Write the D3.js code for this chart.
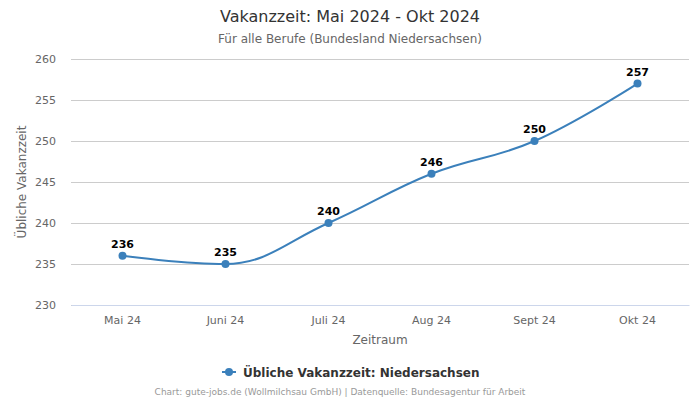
<!DOCTYPE html>
<html><head><meta charset="utf-8">
<script src="https://cdn.jsdelivr.net/npm/d3@7"></script>
<style>body{margin:0;background:#fff}svg{display:block;font-family:"DejaVu Sans",sans-serif}</style>
</head><body><svg id="c" width="700" height="400"></svg>
<script>
const categories = ["Mai 24","Juni 24","Juli 24","Aug 24","Sept 24","Okt 24"];
const values = [236,235,240,246,250,257];
const yTicks = [230,235,240,245,250,255,260];
const seriesName = "Übliche Vakanzzeit: Niedersachsen";

const svg = d3.select("#c");
const W=700,H=400, L=71, R=689, T=59, B=305;
const color = "#3b80bb";

const x = d3.scaleBand().domain(categories).range([L,R]);
const y = d3.scaleLinear().domain([230,260]).range([B,T]);

// title
svg.append("text").attr("x",W/2).attr("y",22).attr("text-anchor","middle").attr("font-size",16).attr("fill","#333").text("Vakanzzeit: Mai 2024 - Okt 2024");
svg.append("text").attr("x",W/2).attr("y",43).attr("text-anchor","middle").attr("font-size",12).attr("fill","#666").text("Für alle Berufe (Bundesland Niedersachsen)");

// grid
const yAxis = d3.axisLeft(y).tickValues(yTicks).tickSize(-(R-L)).tickPadding(15);
const gy = svg.append("g").attr("transform",`translate(${L},0)`).call(yAxis);
gy.select(".domain").remove();
gy.selectAll(".tick line").attr("stroke","#cccccc").attr("stroke-width",1);
gy.selectAll(".tick text").attr("font-size",11).attr("fill","#666").attr("font-family","DejaVu Sans");

const xAxis = d3.axisBottom(x).tickSize(0).tickPadding(11);
const gx = svg.append("g").attr("transform",`translate(0,${B})`).call(xAxis);
gx.select(".domain").attr("stroke","#ccd6eb");
gx.selectAll(".tick text").attr("font-size",11).attr("fill","#666").attr("font-family","DejaVu Sans");

svg.append("text").attr("transform",`translate(26,${(T+B)/2}) rotate(-90)`).attr("text-anchor","middle").attr("font-size",12).attr("fill","#666").text("Übliche Vakanzzeit");
svg.append("text").attr("x",(L+R)/2).attr("y",344).attr("text-anchor","middle").attr("font-size",12).attr("fill","#666").text("Zeitraum");

// Highcharts-like spline curve
function HCSpline(context){this._context=context;}
HCSpline.prototype={
  areaStart(){this._line=0;},areaEnd(){this._line=NaN;},
  lineStart(){this._pts=[];},
  point(px,py){this._pts.push([+px,+py]);},
  lineEnd(){
    const p=this._pts, c=this._context, n=p.length, s=1.5, d=s+1;
    if(!n)return;
    const lc=[],rc=[];
    for(let i=0;i<n;i++){
      const [px,py]=p[i];
      if(i===0||i===n-1){lc[i]=[px,py];rc[i]=[px,py];continue;}
      const [lx,ly]=p[i-1],[nx,ny]=p[i+1];
      let lcx=(s*px+lx)/d, lcy=(s*py+ly)/d, rcx=(s*px+nx)/d, rcy=(s*py+ny)/d;
      if(rcx!==lcx){const corr=((rcy-lcy)*(rcx-px))/(rcx-lcx)+py-rcy;lcy+=corr;rcy+=corr;}
      if(lcy>ly&&lcy>py){lcy=Math.max(ly,py);rcy=2*py-lcy;}
      else if(lcy<ly&&lcy<py){lcy=Math.min(ly,py);rcy=2*py-lcy;}
      if(rcy>ny&&rcy>py){rcy=Math.max(ny,py);lcy=2*py-rcy;}
      else if(rcy<ny&&rcy<py){rcy=Math.min(ny,py);lcy=2*py-rcy;}
      lc[i]=[lcx,lcy];rc[i]=[rcx,rcy];
    }
    c.moveTo(p[0][0],p[0][1]);
    for(let i=1;i<n;i++){c.bezierCurveTo(rc[i-1][0],rc[i-1][1],lc[i][0],lc[i][1],p[i][0],p[i][1]);}
  }
};
const curve = ctx=>new HCSpline(ctx);

const cx = d=>x(d)+x.bandwidth()/2;
const data = categories.map((c,i)=>({c,v:values[i]}));
const line = d3.line().x(d=>cx(d.c)).y(d=>y(d.v)).curve(curve);
svg.append("path").datum(data).attr("d",line).attr("fill","none").attr("stroke",color).attr("stroke-width",2);
svg.selectAll("circle.pt").data(data).join("circle").attr("class","pt").attr("cx",d=>cx(d.c)).attr("cy",d=>y(d.v)).attr("r",4).attr("fill",color);
svg.selectAll("text.lbl").data(data).join("text").attr("class","lbl").attr("x",d=>cx(d.c)).attr("y",d=>y(d.v)-8)
  .attr("text-anchor","middle").attr("font-size",11).attr("font-weight","bold").attr("fill","#000")
  .attr("stroke","#fff").attr("stroke-width",2).attr("paint-order","stroke").attr("stroke-linejoin","round").text(d=>d.v);

// legend
const lg = svg.append("g");
lg.append("line").attr("x1",222).attr("x2",236).attr("y1",372).attr("y2",372).attr("stroke",color).attr("stroke-width",2);
lg.append("circle").attr("cx",229).attr("cy",372).attr("r",4).attr("fill",color);
lg.append("text").attr("x",243).attr("y",377).attr("font-size",12).attr("font-weight","bold").attr("fill","#333").text(seriesName);

svg.append("text").attr("x",340).attr("y",395).attr("text-anchor","middle").attr("font-size",9).attr("fill","#999").text("Chart: gute-jobs.de (Wollmilchsau GmbH) | Datenquelle: Bundesagentur für Arbeit");
</script></body></html>
